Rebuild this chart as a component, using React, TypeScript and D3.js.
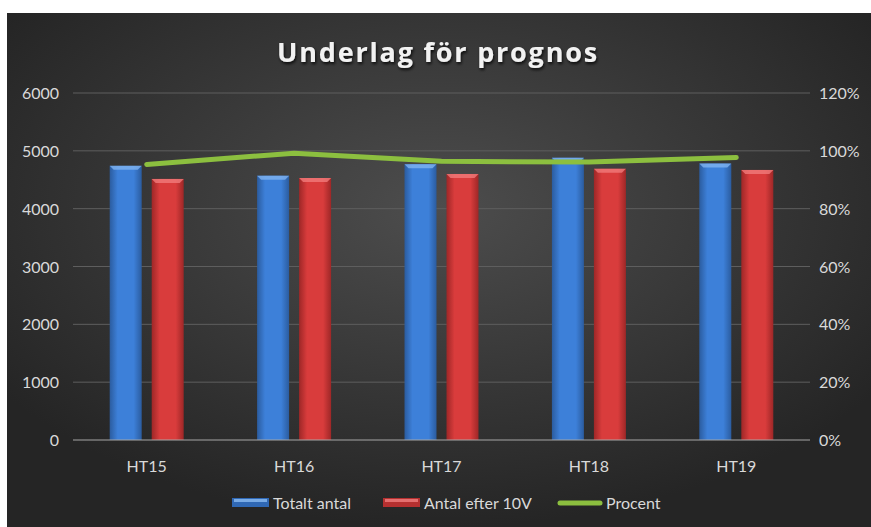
import React, { useEffect, useRef } from "react";
import * as d3 from "d3";

const categories = ["HT15", "HT16", "HT17", "HT18", "HT19"];
const totaltAntal = [4740, 4570, 4770, 4880, 4780];
const antalEfter10V = [4515, 4530, 4600, 4690, 4670];
const procent = [0.953, 0.992, 0.964, 0.961, 0.977];
const leftTicks = [0, 1000, 2000, 3000, 4000, 5000, 6000];
const rightTicks = [0, 0.2, 0.4, 0.6, 0.8, 1.0, 1.2];

const W = 871;
const H = 527;
const FONT = "Lato, 'Open Sans', sans-serif";
const FS = 16;

const App = () => {
  const svgRef = useRef<SVGSVGElement>(null);

  useEffect(() => {
    const svg = d3.select(svgRef.current);
    svg.selectAll("*").remove();
    svg.attr("width", W).attr("height", H);

    const defs = svg.append("defs");
    const bg = defs
      .append("radialGradient")
      .attr("id", "bgGrad")
      .attr("cx", "50%")
      .attr("cy", "38%")
      .attr("r", "62%");
    bg.append("stop").attr("offset", "0%").attr("stop-color", "#4d4d4d");
    bg.append("stop").attr("offset", "100%").attr("stop-color", "#252525");

    const barGrad = (id: string, edge: string, mid: string) => {
      const g = defs.append("linearGradient").attr("id", id).attr("x1", "0").attr("x2", "1").attr("y1", "0").attr("y2", "0");
      g.append("stop").attr("offset", "0%").attr("stop-color", edge);
      g.append("stop").attr("offset", "25%").attr("stop-color", mid);
      g.append("stop").attr("offset", "75%").attr("stop-color", mid);
      g.append("stop").attr("offset", "100%").attr("stop-color", edge);
    };
    barGrad("blueGrad", "#2b5c9f", "#3d80d9");
    barGrad("redGrad", "#9e2727", "#d93c3c");

    const shadow = defs.append("filter").attr("id", "txtShadow").attr("x", "-10%").attr("y", "-30%").attr("width", "120%").attr("height", "160%");
    shadow.append("feDropShadow").attr("dx", 1).attr("dy", 2).attr("stdDeviation", 1.5).attr("flood-color", "#000").attr("flood-opacity", 0.8);

    svg.append("rect").attr("width", W).attr("height", H).attr("fill", "#fff");
    svg.append("rect").attr("x", 7).attr("y", 13).attr("width", W - 7).attr("height", H - 13).attr("fill", "url(#bgGrad)");

    const left = 73;
    const right = 810;
    const top = 93;
    const bottom = 440;

    const x = d3.scaleBand().domain(categories).range([left, right]);
    const y = d3.scaleLinear().domain([0, 6000]).range([bottom, top]);
    const yPct = d3.scaleLinear().domain([0, 1.2]).range([bottom, top]);

    // gridlines
    svg
      .selectAll(".grid")
      .data(leftTicks.slice(1))
      .join("line")
      .attr("x1", left)
      .attr("x2", right)
      .attr("y1", (d) => y(d))
      .attr("y2", (d) => y(d))
      .attr("stroke", "#5e5e5e")
      .attr("stroke-width", 1);

    // left axis
    svg
      .selectAll(".ltick")
      .data(leftTicks)
      .join("text")
      .attr("x", 59)
      .attr("y", (d) => y(d) + 6)
      .attr("text-anchor", "end")
      .attr("font-family", FONT)
      .attr("font-size", FS)
      .attr("fill", "#d9d9d9")
      .text((d) => String(d));

    // right axis
    svg
      .selectAll(".rtick")
      .data(rightTicks)
      .join("text")
      .attr("x", 819)
      .attr("y", (d) => yPct(d) + 6)
      .attr("text-anchor", "start")
      .attr("font-family", FONT)
      .attr("font-size", FS)
      .attr("fill", "#d9d9d9")
      .text((d) => d3.format(".0%")(d));

    const barW = 32;
    const off = 21;

    const drawBars = (vals: number[], dx: number, fill: string, topCol: string) => {
      const g = svg.append("g");
      vals.forEach((v, i) => {
        const cx = (x(categories[i]) as number) + x.bandwidth() / 2 + dx;
        const x0 = cx - barW / 2;
        g.append("rect")
          .attr("x", x0)
          .attr("y", y(v))
          .attr("width", barW)
          .attr("height", bottom - y(v))
          .attr("fill", fill);
        g.append("path")
          .attr("d", `M${x0},${y(v)} L${x0 + barW},${y(v)} L${x0 + barW - 4},${y(v) + 4} L${x0 + 4},${y(v) + 4} Z`)
          .attr("fill", topCol)
          .attr("opacity", 0.8);
      });
    };
    drawBars(totaltAntal, -off, "url(#blueGrad)", "#7fb3f0");
    drawBars(antalEfter10V, off, "url(#redGrad)", "#f07a7a");

    // baseline
    svg.append("line").attr("x1", left).attr("x2", right).attr("y1", bottom).attr("y2", bottom).attr("stroke", "#a6a6a6").attr("stroke-width", 1);

    // line
    const line = d3
      .line<number>()
      .x((_, i) => (x(categories[i]) as number) + x.bandwidth() / 2)
      .y((d) => yPct(d));
    svg
      .append("path")
      .datum(procent)
      .attr("d", line)
      .attr("fill", "none")
      .attr("stroke", "#8cbf3f")
      .attr("stroke-width", 5)
      .attr("stroke-linecap", "round")
      .attr("stroke-linejoin", "round");

    // x labels
    svg
      .selectAll(".xlab")
      .data(categories)
      .join("text")
      .attr("x", (d) => (x(d) as number) + x.bandwidth() / 2)
      .attr("y", 472)
      .attr("text-anchor", "middle")
      .attr("font-family", FONT)
      .attr("font-size", FS)
      .attr("fill", "#d9d9d9")
      .text((d) => d);

    // title
    svg
      .append("text")
      .attr("x", 438)
      .attr("y", 62)
      .attr("text-anchor", "middle")
      .attr("font-family", "'Open Sans', sans-serif")
      .attr("font-weight", "bold")
      .attr("font-size", 27)
      .attr("letter-spacing", 1.8)
      .attr("fill", "#f2f2f2")
      .attr("filter", "url(#txtShadow)")
      .text("Underlag för prognos");

    // legend
    const ly = 503;
    const leg = svg.append("g");
    const swatch = (x0: number, fill: string, topCol: string) => {
      leg.append("rect").attr("x", x0).attr("y", ly - 5).attr("width", 37).attr("height", 9).attr("fill", fill);
      leg.append("rect").attr("x", x0 + 2).attr("y", ly - 4).attr("width", 33).attr("height", 3).attr("fill", topCol).attr("opacity", 0.8);
    };
    swatch(232, "#2f68b5", "#8cbcf2");
    leg.append("text").attr("x", 273).attr("y", ly + 6).attr("font-family", FONT).attr("font-size", FS).attr("fill", "#d9d9d9").text("Totalt antal");
    swatch(383, "#b53030", "#f08080");
    leg.append("text").attr("x", 424).attr("y", ly + 6).attr("font-family", FONT).attr("font-size", FS).attr("fill", "#d9d9d9").text("Antal efter 10V");
    leg.append("line").attr("x1", 560).attr("x2", 600).attr("y1", ly).attr("y2", ly).attr("stroke", "#8cbf3f").attr("stroke-width", 5).attr("stroke-linecap", "round");
    leg.append("text").attr("x", 606).attr("y", ly + 6).attr("font-family", FONT).attr("font-size", FS).attr("fill", "#d9d9d9").text("Procent");
  }, []);

  return <svg ref={svgRef} style={{ position: "absolute", left: 0, top: 0 }} />;
};

export default App;
